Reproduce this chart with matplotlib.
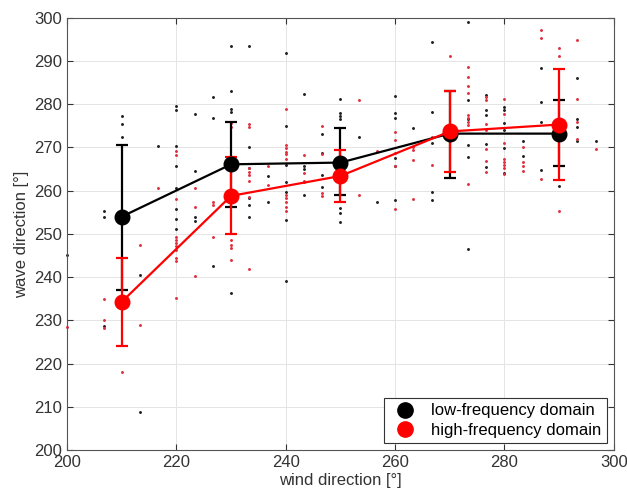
import numpy as np
import matplotlib
matplotlib.use("Agg")
import matplotlib.pyplot as plt
from matplotlib.lines import Line2D

plt.rcParams['font.family'] = ['Liberation Sans', 'DejaVu Sans']

# binned means and error bar limits
bins = [210, 230, 250, 270, 290]
low_mean = [254.0, 266.1, 266.5, 273.2, 273.2]
low_lo = [237.0, 256.2, 258.9, 263.0, 265.6]
low_hi = [270.6, 276.0, 274.6, 283.0, 281.0]
high_mean = [234.3, 258.8, 263.4, 273.7, 275.3]
high_lo = [224.1, 249.9, 257.5, 264.4, 262.4]
high_hi = [244.4, 267.9, 269.4, 283.1, 288.1]

# individual observations (wind direction, wave direction)
low_x = [200, 206.67, 206.67, 206.67, 210, 210, 210, 213.33, 213.33, 216.67,
         220, 220, 220, 220, 220, 220, 220, 220, 223.33, 223.33, 223.33, 223.33,
         226.67, 226.67, 226.67, 230, 230, 230, 230, 230, 233.33, 233.33, 233.33,
         233.33, 233.33, 233.33, 236.67, 236.67, 240, 240, 240, 240, 240, 240,
         240, 243.33, 243.33, 243.33, 243.33, 246.67, 246.67, 246.67, 246.67,
         250, 250, 250, 250, 250, 250, 250, 253.33, 256.67, 260, 260, 260, 260,
         260, 260, 263.33, 266.67, 266.67, 266.67, 266.67, 266.67, 273.33,
         273.33, 273.33, 273.33, 273.33, 273.33, 276.67, 276.67, 276.67,
         276.67, 276.67, 280, 280, 280, 280, 280, 280, 283.33, 283.33,
         286.67, 286.67, 286.67, 286.67, 290, 293.33, 293.33, 293.33,
         293.33, 296.67]
low_y = [245.1, 255.4, 254.0, 228.7, 277.2, 275.4, 272.5, 240.4, 208.9, 270.4,
         279.6, 278.7, 270.4, 265.6, 260.7, 255.8, 253.5, 251.1, 277.8, 264.6,
         254.0, 252.9, 281.6, 276.8, 242.6, 293.4, 283.1, 278.9, 278.3, 236.4,
         293.4, 270.2, 265.2, 258.4, 256.7, 253.9, 263.4, 257.4, 291.8, 275.0,
         266.0, 261.9, 259.8, 253.2, 239.0, 282.3, 265.8, 265.0, 258.9, 273.1,
         268.7, 263.7, 260.9, 281.3, 277.9, 277.2, 276.6, 255.9, 254.8, 252.8,
         272.4, 257.3, 281.8, 278.0, 276.8, 267.5, 265.8, 257.9, 274.6, 294.4,
         278.3, 271.0, 259.6, 257.8, 299.1, 280.9, 276.5, 270.6, 267.8, 246.5,
         282.2, 278.6, 277.5, 270.8, 265.4, 279.3, 278.7, 275.6, 274.1, 269.8,
         264.0, 271.4, 268.0, 288.3, 280.4, 276.0, 264.7, 261.2, 286.0, 276.6,
         274.8, 271.5, 271.4]

high_x = [200, 206.67, 206.67, 206.67, 210, 213.33, 213.33, 216.67, 220, 220,
          220, 220, 220, 220, 220, 220, 220, 220, 220, 223.33, 223.33, 223.33,
          226.67, 226.67, 226.67, 230, 230, 230, 230, 230, 230, 233.33, 233.33,
          233.33, 233.33, 233.33, 233.33, 233.33, 233.33, 236.67, 236.67, 240,
          240, 240, 240, 240, 240, 240, 240, 240, 240, 240, 243.33, 243.33,
          243.33, 243.33, 246.67, 246.67, 246.67, 246.67, 253.33, 253.33,
          256.67, 260, 260, 260, 260, 260, 263.33, 263.33, 263.33, 263.33,
          266.67, 266.67, 270, 273.33, 273.33, 273.33, 273.33, 273.33, 273.33,
          273.33, 273.33, 273.33, 276.67, 276.67, 276.67, 276.67, 276.67,
          276.67, 276.67, 280, 280, 280, 280, 280, 280, 280, 280, 283.33,
          283.33, 283.33, 283.33, 286.67, 286.67, 286.67, 290, 290, 290,
          293.33, 293.33, 293.33, 293.33, 296.67]
high_y = [228.5, 235.0, 230.1, 228.2, 218.1, 247.5, 228.9, 260.7, 269.1, 268.3,
          258.0, 249.4, 248.6, 247.8, 247.1, 244.4, 243.8, 235.1, 246.3, 260.6,
          256.3, 240.2, 257.5, 256.8, 249.4, 275.6, 274.7, 248.5, 246.7, 244.0,
          247.5, 275.5, 274.8, 265.3, 264.4, 263.7, 262.3, 258.5, 241.8, 265.7,
          261.3, 278.8, 270.6, 269.8, 269.0, 268.4, 267.3, 258.9, 258.2, 257.5,
          256.2, 255.4, 268.3, 264.2, 262.3, 261.9, 275.0, 268.4, 259.4, 258.8,
          281.0, 259.0, 269.1, 273.5, 271.8, 268.7, 265.8, 255.7, 270.0, 269.3,
          267.1, 258.0, 272.4, 266.0, 291.2, 288.7, 286.3, 284.1, 282.6, 277.6,
          276.8, 276.0, 275.3, 261.5, 281.6, 281.0, 275.4, 274.1, 269.7, 266.8,
          264.4, 281.3, 277.7, 271.0, 267.4, 266.7, 266.0, 265.3, 263.8, 270.2,
          266.7, 265.6, 264.5, 297.1, 295.4, 262.7, 293.1, 291.2, 255.4, 294.9,
          281.3, 276.0, 272.0, 269.7]

fig = plt.figure(figsize=(6.27, 4.93), dpi=100)
ax = fig.add_axes([0.107, 0.087, 0.872, 0.877])

ax.plot(low_x, low_y, '.', color='#202020', markersize=2.2, clip_on=False)
ax.plot(high_x, high_y, '.', color='#e03040', markersize=2.2, clip_on=False)

ax.errorbar(bins, low_mean,
            yerr=[np.subtract(low_mean, low_lo), np.subtract(low_hi, low_mean)],
            color='black', marker='o', markersize=10.5, linewidth=1.6,
            elinewidth=1.6, capsize=4.5, capthick=1.6,
            label='low-frequency domain')
ax.errorbar(bins, high_mean,
            yerr=[np.subtract(high_mean, high_lo), np.subtract(high_hi, high_mean)],
            color='#ff0000', marker='o', markersize=10.5, linewidth=1.6,
            elinewidth=1.6, capsize=4.5, capthick=1.6,
            label='high-frequency domain')

ax.set_xlim(200, 300)
ax.set_ylim(200, 300)
ax.set_xticks(np.arange(200, 301, 20))
ax.set_yticks(np.arange(200, 301, 10))
ax.grid(True, color='#e4e4e4', linestyle='-', linewidth=0.7)
ax.set_axisbelow(True)
ax.tick_params(direction='in', top=True, right=True, labelsize=12,
               colors='#333333', length=4)
for s in ax.spines.values():
    s.set_color('#555555')

ax.set_xlabel('wind direction [°]', fontsize=12, color='#333333', labelpad=2)
ax.set_ylabel('wave direction [°]', fontsize=12, color='#333333', labelpad=4)

h, l = ax.get_legend_handles_labels()
handles = [Line2D([], [], marker='o', color='black', linestyle='none', markersize=11),
           Line2D([], [], marker='o', color='#ff0000', linestyle='none', markersize=11)]
leg = ax.legend(handles, l, loc='lower right', fontsize=12, fancybox=False,
                edgecolor='#333333', framealpha=1, handletextpad=0.6,
                borderpad=0.35, labelspacing=0.25, handlelength=1.9,
                borderaxespad=0.4)
leg.get_frame().set_linewidth(0.8)

fig.savefig('out.png', dpi=100)
